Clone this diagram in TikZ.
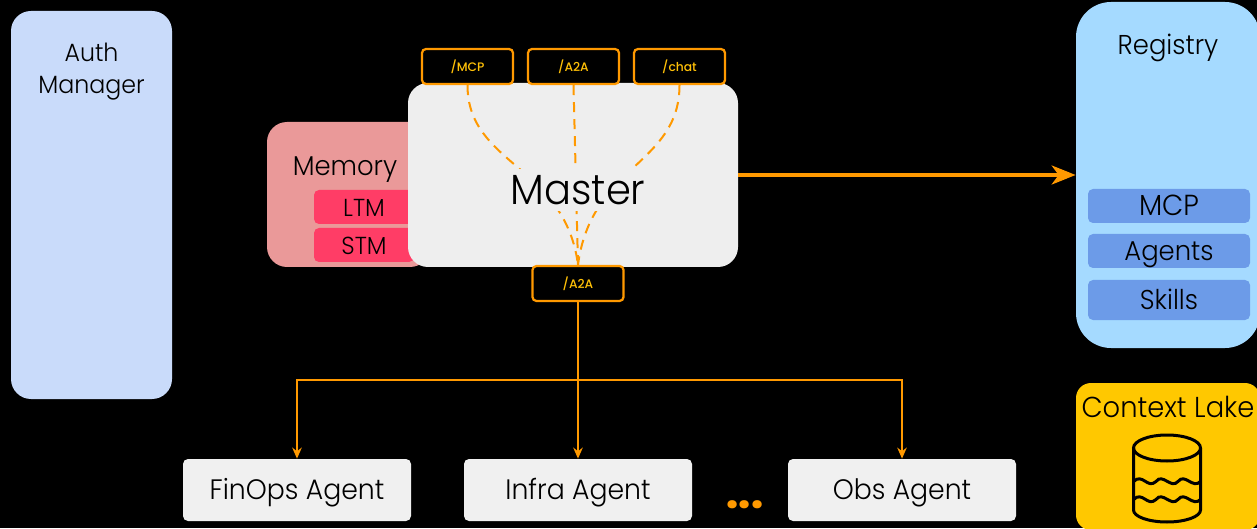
\documentclass[tikz,border=0pt]{standalone}
\usepackage{fontspec}
\setsansfont[FakeStretch=0.95]{Poppins Light}
\newfontfamily\portfont{Poppins Medium}
\newfontfamily\dotfont{Poppins ExtraBold}
\definecolor{authblue}{HTML}{C9DBFA}
\definecolor{memred}{HTML}{EA9999}
\definecolor{memdark}{HTML}{FF3D66}
\definecolor{mastergray}{HTML}{EEEEEE}
\definecolor{regblue}{HTML}{A5DAFF}
\definecolor{regdark}{HTML}{6C9BE8}
\definecolor{lakeyellow}{HTML}{FFC800}
\definecolor{agentgray}{HTML}{F0F0F0}
\definecolor{wire}{HTML}{FF9900}
\definecolor{portlabel}{HTML}{FFC107}
\tikzset{every picture/.style={/utils/exec={\sffamily}}}
\usetikzlibrary{arrows.meta}
\tikzset{
  panel/.style={rectangle, rounded corners=0.4cm, inner sep=0pt},
  inner box/.style={rectangle, rounded corners=0.1cm, inner sep=0pt, text height=1.08em, text depth=0pt, font=\fontsize{15.5}{15.5}\selectfont, text=black},
  port/.style={rectangle, rounded corners=0.08cm, draw=wire, line width=0.045cm, fill=black, minimum width=1.82cm, minimum height=0.7cm, inner sep=0pt, text=portlabel, font=\portfont\fontsize{7}{7}\selectfont},
  title/.style={font=\fontsize{15.5}{18}\selectfont, text=black, align=center, inner sep=0pt},
  agent/.style={panel, rounded corners=0.1cm, fill=agentgray, minimum width=4.56cm, minimum height=1.24cm, text height=1.05em, text depth=0pt, font=\fontsize{16}{16}\selectfont, text=black},
  route/.style={wire, line width=0.04cm, dash pattern=on 0.2cm off 0.14cm},
  feed/.style={wire, line width=0.04cm, -{Stealth[length=0.22cm, width=0.19cm]}}
}

\begin{document}
\begin{tikzpicture}
  \useasboundingbox (0,0) rectangle (25.14,10.56);
  \fill [black] (0,0) rectangle (25.14,10.56);

  \node [panel, fill=authblue, minimum width=3.22cm, minimum height=7.76cm] (auth) at (1.83,6.46) {};
  \node [title, font=\fontsize{14.2}{18}\selectfont] (authtitle) at (1.83,9.13) {Auth\\Manager};

  \node [panel, fill=memred, minimum width=3.26cm, minimum height=2.9cm] (memory) at (6.97,6.67) {};
  \node [title] (memorytitle) at (6.9,7.17) {Memory};
  \node [inner box, fill=memdark, minimum width=2cm, minimum height=0.68cm, font=\fontsize{14}{14}\selectfont] (ltm) at (7.28,6.42) {LTM};
  \node [inner box, fill=memdark, minimum width=2cm, minimum height=0.68cm, font=\fontsize{14}{14}\selectfont] (stm) at (7.28,5.66) {STM};

  \node [panel, fill=mastergray, minimum width=6.6cm, minimum height=3.68cm] (master) at (11.46,7.06) {};

  \node [port] (mcpport) at (9.35,9.23) {/MCP};
  \node [port] (a2aport) at (11.47,9.23) {/A2A};
  \node [port] (chatport) at (13.59,9.23) {/chat};
  \node [port] (downport) at (11.56,4.89) {/A2A};

  \draw [route] (mcpport.south) .. controls (9.35,7.26) and (11.3,7.26) .. (downport.north);
  \draw [route] (a2aport.south) -- (downport.north);
  \draw [route] (chatport.south) .. controls (13.59,7.26) and (11.82,7.26) .. (downport.north);
  \node [fill=mastergray, minimum width=2.8cm, minimum height=0.84cm, inner sep=0pt, font=\fontsize{24}{24}\selectfont, text=black] (mastertitle) at (11.56,6.76) {Master};

  \node [panel, rounded corners=0.7cm, fill=regblue, minimum width=3.68cm, minimum height=6.92cm] (registry) at (23.36,7.06) {};
  \node [title] (registrytitle) at (23.36,9.6) {Registry};
  \node [inner box, fill=regdark, minimum width=3.24cm, minimum height=0.68cm, font=\fontsize{16.5}{16.5}\selectfont] (mcp) at (23.38,6.44) {MCP};
  \node [inner box, fill=regdark, minimum width=3.24cm, minimum height=0.68cm] (agents) at (23.38,5.54) {Agents};
  \node [inner box, fill=regdark, minimum width=3.24cm, minimum height=0.8cm] (skills) at (23.38,4.56) {Skills};

  \draw [wire, line width=0.07cm, -{Stealth[length=0.48cm, width=0.38cm, inset=0.14cm]}] (master.east) -- (registry.west);

  \node [agent] (finops) at (5.94,0.76) {FinOps Agent};
  \node [agent] (infra) at (11.56,0.76) {Infra Agent};
  \node [agent] (obs) at (18.04,0.76) {Obs Agent};
  \node [text=wire, font=\dotfont\fontsize{23}{23}\selectfont] (more) at (14.9,0.46) {...};

  \coordinate (split) at (11.56,2.96);
  \draw [wire, line width=0.04cm] (downport.south) -- (split);
  \draw [feed] (split) -| (finops.north);
  \draw [feed] (split) -- (infra.north -| split);
  \draw [feed] (split) -| (obs.north);

  \node [panel, rounded corners=0.3cm, fill=lakeyellow, minimum width=3.68cm, minimum height=2.94cm] (lake) at (23.36,1.43) {};
  \node [title, font=\fontsize{16.4}{18}\selectfont] (laketitle) at (23.36,2.42) {Context Lake};

  % lake barrel
  \begin{scope}[line width=0.06cm, black]
    \draw (23.34,1.6) ellipse (0.67cm and 0.26cm);
    \draw (22.67,1.6) -- (22.67,0.36) arc (180:360:0.67cm and 0.24cm) -- (24.01,1.6);
    \draw (22.67,0.93) .. controls (22.85,1.11) and (22.95,0.77) .. (23.12,0.93) .. controls (23.25,1.11) and (23.42,0.77) .. (23.56,0.93) .. controls (23.7,1.11) and (23.85,0.77) .. (24.01,0.93);
    \draw (22.67,0.57) .. controls (22.85,0.75) and (22.95,0.41) .. (23.12,0.57) .. controls (23.25,0.75) and (23.42,0.41) .. (23.56,0.57) .. controls (23.7,0.75) and (23.85,0.41) .. (24.01,0.57);
  \end{scope}
\end{tikzpicture}
\end{document}
